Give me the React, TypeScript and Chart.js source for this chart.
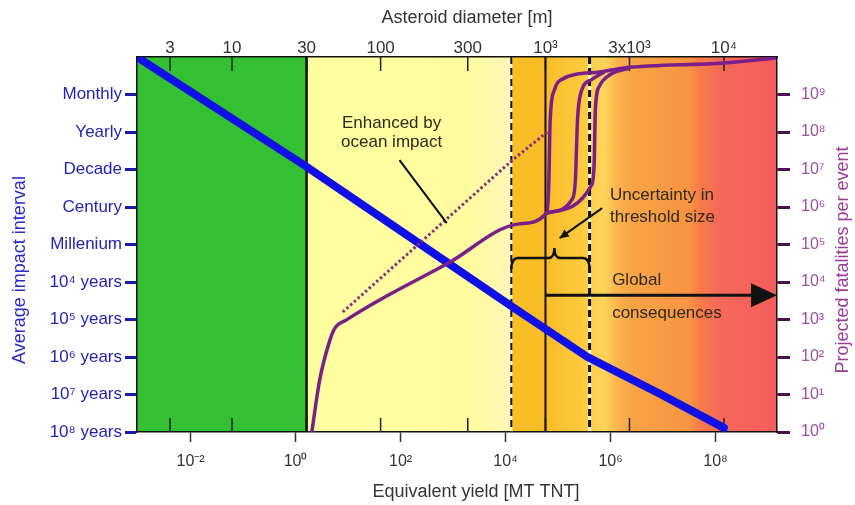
import React, { useEffect, useRef } from 'react';
import { Chart, registerables } from 'chart.js';

Chart.register(...registerables);

// Axis ranges (log10 units)
const yieldLogMin = -3.02;
const yieldLogMax = 9.17;
const logMin = 0;
const logMax = 10;

// Tick values and labels
const bottomTickValues = [-2, 0, 2, 4, 6, 8];
const bottomTickLabels = ['10⁻²', '10⁰', '10²', '10⁴', '10⁶', '10⁸'];
const topTickValues = [-2.39, -1.21, 0.21, 1.62, 3.28, 4.76, 6.36, 8.16];
const topTickLabels = ['3', '10', '30', '100', '300', '10³', '3x10³', '10⁴'];
const leftTickValues = [0, 1, 2, 3, 4, 5, 6, 7, 8, 9];
const leftTickLabels = ['10⁸ years', '10⁷ years', '10⁶ years', '10⁵ years', '10⁴ years', 'Millenium', 'Century', 'Decade', 'Yearly', 'Monthly'];
const rightTickValues = [0, 1, 2, 3, 4, 5, 6, 7, 8, 9];
const rightTickLabels = ['10⁰', '10¹', '10²', '10³', '10⁴', '10⁵', '10⁶', '10⁷', '10⁸', '10⁹'];

// Average impact interval (blue)
const impactYield = [-3.02, 0.16, 2.48, 4.19, 5.56, 6.91, 8.16];
const impactInterval = [10.0, 7.12, 4.91, 3.28, 2.0, 1.04, 0.11];

// Projected fatalities (purple) - lowest threshold branch
const fatalYieldA = [0.31, 0.46, 0.65, 0.75, 0.97, 1.6, 2.88, 4.26, 4.78, 4.82, 4.85, 4.93, 5.08, 5.79, 6.26, 8.16, 9.15];
const fatalLogA = [0, 1.39, 2.43, 2.77, 2.99, 3.52, 4.48, 5.55, 5.84, 6.45, 8.32, 9.12, 9.41, 9.6, 9.71, 9.84, 9.97];
// middle threshold branch
const fatalYieldB = [4.78, 5.27, 5.33, 5.37, 5.44, 5.63, 5.88];
const fatalLogB = [5.84, 6.21, 6.72, 8.32, 9.07, 9.39, 9.6];
// highest threshold branch
const fatalYieldC = [4.78, 5.64, 5.69, 5.71, 5.79, 5.98, 6.36];
const fatalLogC = [5.84, 6.59, 7.25, 8.59, 9.23, 9.52, 9.71];
// enhanced by ocean impact (dotted)
const oceanYield = [0.9, 4.13, 4.82];
const oceanLog = [3.2, 7.25, 8.03];

// Zones and threshold lines (log yield)
const greenZone = [-3.02, 0.21];
const solidLines = [0.21, 4.76];
const dashedLines = [4.11, 5.6];

const pts = (xs: number[], ys: number[]) => xs.map((x, i) => ({ x, y: ys[i] }));

const FONT = 'Liberation Sans, Arial, sans-serif';

const decor = {
  id: 'decor',
  beforeDraw(chart: any) {
    const { ctx, chartArea: a, scales } = chart;
    const X = (v: number) => scales.x.getPixelForValue(v);
    ctx.save();
    ctx.fillStyle = '#33c133';
    ctx.fillRect(X(greenZone[0]), a.top, X(greenZone[1]) - X(greenZone[0]), a.bottom - a.top);
    const x0 = X(greenZone[1]);
    const x1 = a.right;
    const g = ctx.createLinearGradient(x0, 0, x1, 0);
    const stops: [number, string][] = [
      [0.21, '#ffffa0'], [3.3, '#fffca0'], [4.09, '#fff6b4'], [4.11, '#f9be25'],
      [4.76, '#f9bc28'], [5.5, '#fccb40'], [5.88, '#ffd45c'], [6.13, '#fbb44e'],
      [6.39, '#f9a445'], [7.5, '#f89442'], [7.69, '#f77d48'], [8.11, '#f5685a'], [9.17, '#f45c5c'],
    ];
    stops.forEach(([v, c]) => g.addColorStop(Math.min(1, Math.max(0, (X(v) - x0) / (x1 - x0))), c));
    ctx.fillStyle = g;
    ctx.fillRect(x0, a.top, x1 - x0, a.bottom - a.top);
    ctx.restore();
  },
  beforeDatasetsDraw(chart: any) {
    const { ctx, chartArea: a, scales } = chart;
    const X = (v: number) => scales.x.getPixelForValue(v);
    ctx.save();
    ctx.strokeStyle = '#222';
    ctx.lineWidth = 1.5;
    topTickValues.forEach((v) => {
      const x = X(v);
      ctx.beginPath();
      ctx.moveTo(x, a.top);
      ctx.lineTo(x, a.top + 14);
      ctx.moveTo(x, a.bottom);
      ctx.lineTo(x, a.bottom - 14);
      ctx.stroke();
    });
    ctx.strokeStyle = '#111';
    solidLines.forEach((v, i) => {
      ctx.lineWidth = i === 0 ? 2.5 : 2;
      ctx.beginPath();
      ctx.moveTo(X(v), a.top);
      ctx.lineTo(X(v), a.bottom);
      ctx.stroke();
    });
    dashedLines.forEach((v, i) => {
      const w = i === 0 ? 2 : 3;
      ctx.setLineDash([]);
      ctx.strokeStyle = '#fffbe0';
      ctx.lineWidth = w;
      ctx.beginPath();
      ctx.moveTo(X(v), a.top);
      ctx.lineTo(X(v), a.bottom);
      ctx.stroke();
      ctx.setLineDash([7, 4]);
      ctx.strokeStyle = '#111';
      ctx.beginPath();
      ctx.moveTo(X(v), a.top);
      ctx.lineTo(X(v), a.bottom);
      ctx.stroke();
    });
    ctx.restore();
  },
  afterDatasetsDraw(chart: any) {
    const { ctx, chartArea: a, scales } = chart;
    const X = (v: number) => scales.x.getPixelForValue(v);
    const Y = (v: number) => scales.y.getPixelForValue(v);
    ctx.save();
    ctx.font = `17px ${FONT}`;
    ctx.fillStyle = '#2e2a18';
    ctx.textBaseline = 'middle';
    ctx.textAlign = 'center';
    ctx.fillText('Enhanced by', X(1.83), Y(8.24));
    ctx.fillText('ocean impact', X(1.83), Y(7.73));
    ctx.strokeStyle = '#111';
    ctx.lineWidth = 2;
    ctx.beginPath();
    ctx.moveTo(X(1.98), Y(7.25));
    ctx.lineTo(X(2.88), Y(5.57));
    ctx.stroke();
    ctx.textAlign = 'left';
    ctx.fillText('Uncertainty in', X(5.99), Y(6.32));
    ctx.fillText('threshold size', X(5.99), Y(5.73));
    const ax0 = X(5.84), ay0 = Y(5.97), ax1 = X(5.03), ay1 = Y(5.17);
    ctx.beginPath();
    ctx.moveTo(ax0, ay0);
    ctx.lineTo(ax1, ay1);
    ctx.stroke();
    const ang = Math.atan2(ay1 - ay0, ax1 - ax0);
    ctx.fillStyle = '#111';
    ctx.beginPath();
    ctx.moveTo(ax1, ay1);
    ctx.lineTo(ax1 - 10 * Math.cos(ang - 0.45), ay1 - 10 * Math.sin(ang - 0.45));
    ctx.lineTo(ax1 - 10 * Math.cos(ang + 0.45), ay1 - 10 * Math.sin(ang + 0.45));
    ctx.closePath();
    ctx.fill();
    const bl = X(dashedLines[0]), br = X(dashedLines[1]), bm = X(4.93), by = Y(4.64);
    ctx.lineWidth = 2.5;
    ctx.beginPath();
    ctx.moveTo(bl, by + 11);
    ctx.quadraticCurveTo(bl, by, bl + 7, by);
    ctx.lineTo(bm - 6, by);
    ctx.quadraticCurveTo(bm, by, bm, by - 10);
    ctx.quadraticCurveTo(bm, by, bm + 6, by);
    ctx.lineTo(br - 7, by);
    ctx.quadraticCurveTo(br, by, br, by + 11);
    ctx.stroke();
    ctx.fillStyle = '#2e2a18';
    ctx.fillText('Global', X(6.03), Y(4.05));
    ctx.fillText('consequences', X(6.03), Y(3.17));
    const gy = Y(3.65);
    ctx.lineWidth = 3;
    ctx.beginPath();
    ctx.moveTo(X(solidLines[1]), gy);
    ctx.lineTo(a.right - 22, gy);
    ctx.stroke();
    ctx.fillStyle = '#111';
    ctx.beginPath();
    ctx.moveTo(a.right, gy);
    ctx.lineTo(a.right - 26, gy - 12);
    ctx.lineTo(a.right - 26, gy + 12);
    ctx.closePath();
    ctx.fill();
    ctx.restore();
  },
  afterDraw(chart: any) {
    const { ctx } = chart;
    ctx.save();
    ctx.font = `18px ${FONT}`;
    ctx.textAlign = 'center';
    ctx.textBaseline = 'middle';
    ctx.fillStyle = '#333';
    ctx.fillText('Asteroid diameter [m]', 467, 18);
    ctx.fillText('Equivalent yield [MT TNT]', 476, 492);
    ctx.save();
    ctx.translate(20, 270);
    ctx.rotate(-Math.PI / 2);
    ctx.fillStyle = '#2a2acc';
    ctx.fillText('Average impact interval', 0, 0);
    ctx.restore();
    ctx.save();
    ctx.translate(843, 260);
    ctx.rotate(-Math.PI / 2);
    ctx.fillStyle = '#9b3a98';
    ctx.fillText('Projected fatalities per event', 0, 0);
    ctx.restore();
    ctx.restore();
  },
};

export default function App() {
  const ref = useRef<HTMLCanvasElement>(null);
  useEffect(() => {
    if (!ref.current) return;
    const purple = '#7a1f8a';
    const chart = new Chart(ref.current, {
      type: 'line',
      data: {
        datasets: [
          {
            data: pts(oceanYield, oceanLog),
            yAxisID: 'y2',
            borderColor: '#8a2a80',
            borderWidth: 3,
            borderDash: [2.5, 2.5],
            pointRadius: 0,
            tension: 0,
          },
          {
            data: pts(fatalYieldC, fatalLogC),
            yAxisID: 'y2',
            borderColor: purple,
            borderWidth: 3.5,
            pointRadius: 0,
            cubicInterpolationMode: 'monotone',
          },
          {
            data: pts(fatalYieldB, fatalLogB),
            yAxisID: 'y2',
            borderColor: purple,
            borderWidth: 3.5,
            pointRadius: 0,
            cubicInterpolationMode: 'monotone',
          },
          {
            data: pts(fatalYieldA, fatalLogA),
            yAxisID: 'y2',
            borderColor: purple,
            borderWidth: 3.5,
            pointRadius: 0,
            cubicInterpolationMode: 'monotone',
          },
          {
            data: pts(impactYield, impactInterval),
            yAxisID: 'y',
            borderColor: '#1010e6',
            borderWidth: 8,
            borderCapStyle: 'round',
            borderJoinStyle: 'round',
            pointRadius: 0,
            tension: 0,
          },
        ],
      },
      options: {
        animation: false,
        responsive: true,
        maintainAspectRatio: false,
        layout: { padding: 0 },
        plugins: { legend: { display: false }, tooltip: { enabled: false } },
        scales: {
          x: {
            type: 'linear',
            position: 'bottom',
            min: yieldLogMin,
            max: yieldLogMax,
            afterBuildTicks: (s: any) => { s.ticks = bottomTickValues.map((v) => ({ value: v })); },
            afterFit: (s: any) => { s.height = 73; },
            ticks: {
              autoSkip: false,
              maxRotation: 0,
              padding: 10,
              color: '#333',
              font: { size: 16, family: FONT },
              callback: (v: any) => bottomTickLabels[bottomTickValues.indexOf(Number(v))] ?? '',
            },
            grid: { display: true, drawOnChartArea: false, tickLength: 10, tickWidth: 1.5, tickColor: '#333' },
            border: { display: true, color: '#111', width: 1.5 },
          },
          x2: {
            type: 'linear',
            position: 'top',
            min: yieldLogMin,
            max: yieldLogMax,
            afterBuildTicks: (s: any) => { s.ticks = topTickValues.map((v) => ({ value: v })); },
            afterFit: (s: any) => { s.height = 57; },
            ticks: {
              autoSkip: false,
              maxRotation: 0,
              padding: -2,
              color: '#333',
              font: { size: 17, family: FONT },
              callback: (v: any) => topTickLabels[topTickValues.indexOf(Number(v))] ?? '',
            },
            grid: { display: false, drawTicks: false },
            border: { display: true, color: '#111', width: 1.5 },
          },
          y: {
            type: 'linear',
            position: 'left',
            min: logMin,
            max: logMax,
            afterBuildTicks: (s: any) => { s.ticks = leftTickValues.map((v) => ({ value: v })); },
            afterFit: (s: any) => { s.width = 137; },
            ticks: {
              autoSkip: false,
              padding: 3,
              color: '#2323b8',
              font: { size: 17, family: FONT },
              callback: (v: any) => leftTickLabels[leftTickValues.indexOf(Number(v))] ?? '',
            },
            grid: { display: true, drawOnChartArea: false, tickLength: 12, tickWidth: 3, tickColor: '#1a1ab0' },
            border: { display: true, color: '#111', width: 1.5 },
          },
          y2: {
            type: 'linear',
            position: 'right',
            min: logMin,
            max: logMax,
            afterBuildTicks: (s: any) => { s.ticks = rightTickValues.map((v) => ({ value: v })); },
            afterFit: (s: any) => { s.width = 78; },
            ticks: {
              autoSkip: false,
              padding: 11,
              color: '#a04da0',
              font: { size: 16, family: FONT },
              callback: (v: any) => rightTickLabels[rightTickValues.indexOf(Number(v))] ?? '',
            },
            grid: { display: true, drawOnChartArea: false, tickLength: 13, tickWidth: 3, tickColor: '#4a0e4e' },
            border: { display: true, color: '#111', width: 1.5 },
          },
        },
      },
      plugins: [decor],
    } as any);
    return () => chart.destroy();
  }, []);
  return (
    <div style={{ position: 'absolute', left: 0, top: 0, width: 855, height: 505, background: '#fff' }}>
      <canvas ref={ref} />
    </div>
  );
}
